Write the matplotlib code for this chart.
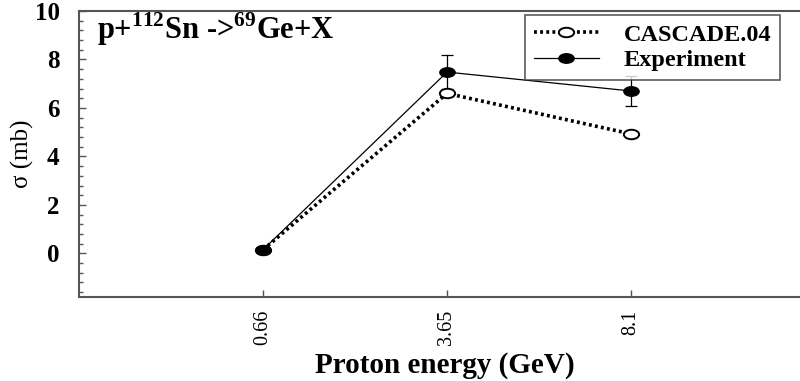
import matplotlib
matplotlib.use("Agg")
import matplotlib.pyplot as plt
from matplotlib.ticker import MultipleLocator
from matplotlib.path import Path
from matplotlib.transforms import Affine2D

energies = ["0.66", "3.65", "8.1"]
cascade = [0.15, 6.6, 4.93]
experiment = [0.15, 7.48, 6.7]
exp_err = [0.0, 0.7, 0.6]

plt.rcParams['font.family'] = ['Liberation Serif', 'DejaVu Serif']
plt.rcParams['mathtext.fontset'] = 'custom'
plt.rcParams['mathtext.rm'] = 'Liberation Serif'
plt.rcParams['mathtext.bf'] = 'Liberation Serif:bold'

# horizontally stretched circle like the reference
ell = Path.unit_circle().transformed(Affine2D().scale(1.0, 0.62))

fig = plt.figure(figsize=(8, 3.81), dpi=100)
ax = fig.add_axes([79/800, 1 - 297/381, (815-79)/800, (297-11)/381])
x = [1, 2, 3]

ax.plot(x, cascade, linestyle=(0, (0.8, 0.9)), color='black', linewidth=2.6,
        marker=ell, markersize=11, markerfacecolor='white', markeredgecolor='black',
        markeredgewidth=1.4, label='CASCADE.04', zorder=4)
ax.errorbar(x, experiment, yerr=exp_err, color='black', linewidth=0.9,
            fmt='none', capsize=4.3, elinewidth=0.9, capthick=0.9, zorder=3)
ax.plot(x, experiment, color='black', linewidth=0.9,
        marker=ell, markersize=11, markerfacecolor='black', markeredgecolor='black',
        label='Experiment', zorder=5)

ax.set_xlim(0, 4)
ax.set_ylim(-1.8, 10)
ax.set_xticks(x)
ax.set_xticklabels(energies, rotation=90, fontsize=14.5)
ax.set_yticks([0, 2, 4, 6, 8, 10])
ax.yaxis.set_minor_locator(MultipleLocator(0.4))
for lab in ax.get_yticklabels():
    lab.set_fontweight('bold')
    lab.set_fontsize(18)
ax.tick_params(axis='both', direction='in', length=5, width=1, color='#555555')
ax.tick_params(axis='y', which='minor', direction='in', length=3, width=1, color='#555555')
ax.tick_params(axis='y', pad=14)
ax.tick_params(axis='x', pad=9)
for s in ax.spines.values():
    s.set_color('#555555')
    s.set_linewidth(1.5)

ax.set_xlabel('Proton energy (GeV)', fontsize=21, fontweight='bold', va='top')
ax.xaxis.set_label_coords((445-79)/736, -(352-297)/286)
ax.set_ylabel('σ (mb)', fontsize=18)
ax.yaxis.set_label_coords(-(45)/736, 0.5)

ax.text(0.1, 9.25, r'p+$^{\mathbf{112}}$Sn ->$^{\mathbf{69}}$Ge+X', fontsize=22,
        fontweight='bold', va='center', ha='left')

leg = ax.legend(loc='upper left', bbox_to_anchor=((525-79)/736, 1 - 4/286),
                prop={'weight': 'bold', 'size': 17.5},
                frameon=True, fancybox=False, edgecolor='#333333',
                handlelength=2.7, borderpad=0.35, labelspacing=0.15, handletextpad=1.0,
                borderaxespad=0.0)
leg.get_frame().set_linewidth(1.2)

fig.savefig('out.png', dpi=100)
